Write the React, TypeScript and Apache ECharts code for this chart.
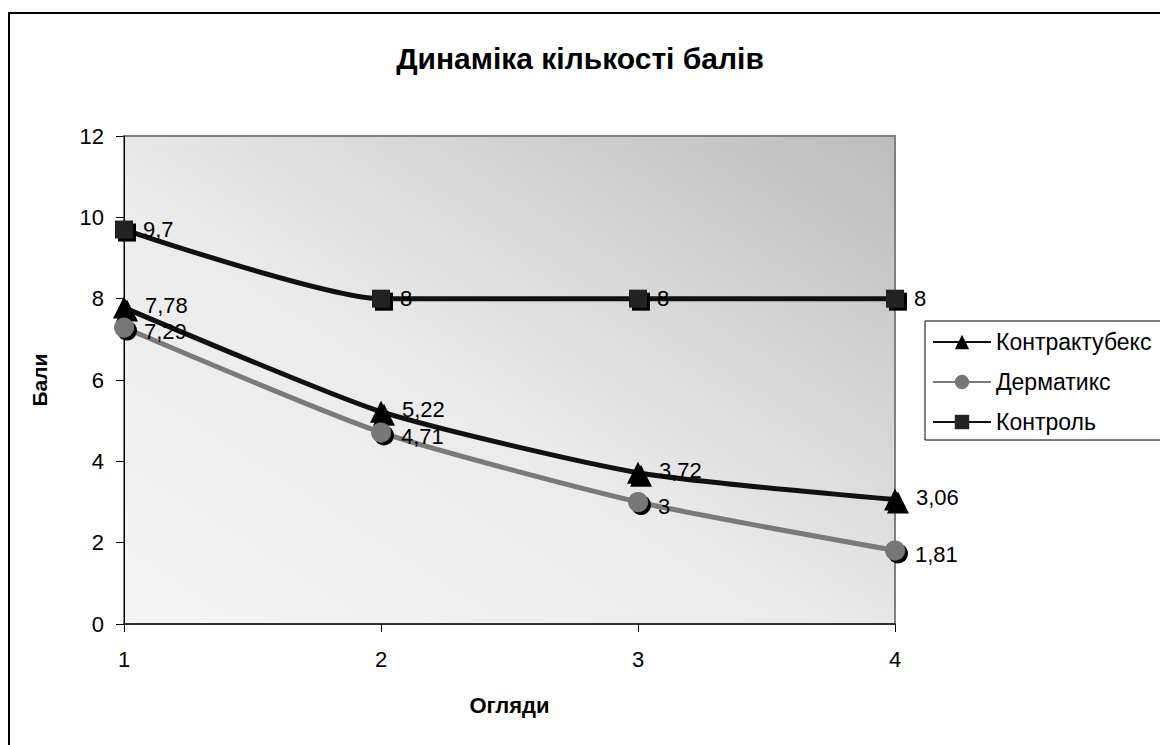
import React, { useEffect, useRef } from "react";
import * as echarts from "echarts";

const categories = ["1", "2", "3", "4"];
const kontraktubeks = [7.78, 5.22, 3.72, 3.06];
const dermatiks = [7.29, 4.71, 3, 1.81];
const kontrol = [9.7, 8, 8, 8];
const seriesNames = ["Контрактубекс", "Дерматикс", "Контроль"];
const yTicks = { min: 0, max: 12, interval: 2 };

const FONT = "Liberation Sans, Arial, sans-serif";

export default function App() {
  const ref = useRef<HTMLDivElement>(null);
  useEffect(() => {
    if (!ref.current) return;
    const chart = echarts.init(ref.current, null, { renderer: "svg" });
    const fmt = (p: any) => String(p.value).replace(".", ",");
    const label = {
      show: true,
      position: "right" as const,
      distance: 10,
      formatter: fmt,
      color: "#000",
      fontSize: 22,
      lineHeight: 19,
      fontFamily: FONT,
    };
    const shadow = { shadowColor: "#000", shadowOffsetX: 3, shadowOffsetY: 3, shadowBlur: 0 };
    chart.setOption({
      animation: false,
      textStyle: { fontFamily: FONT },
      title: {
        text: "Динаміка кількості балів",
        left: "center",
        top: 38,
        textStyle: { fontSize: 30, fontWeight: "bold", color: "#000", fontFamily: FONT },
      },
      graphic: [
        {
          type: "rect",
          z: -10,
          shape: { x: 9, y: 13, width: 1300, height: 900 },
          style: { fill: "none", stroke: "#000", lineWidth: 2 },
        },
      ],
      legend: {
        orient: "vertical",
        left: 925,
        top: 321,
        backgroundColor: "#fff",
        borderColor: "#000",
        borderWidth: 1,
        padding: [9, 30, 6, 7],
        itemWidth: 58,
        itemHeight: 18,
        itemGap: 16,
        textStyle: { fontSize: 23, lineHeight: 24, color: "#000", fontFamily: FONT },
        data: seriesNames,
      },
      grid: {
        show: true,
        left: 124,
        top: 136,
        right: 265,
        bottom: 121,
        borderColor: "#808080",
        borderWidth: 2,
        backgroundColor: new echarts.graphic.LinearGradient(0, 1, 1, 0, [
          { offset: 0, color: "#f4f4f4" },
          { offset: 0.45, color: "#ebebeb" },
          { offset: 1, color: "#bcbcbc" },
        ]),
      },
      xAxis: {
        type: "category",
        data: categories,
        boundaryGap: false,
        name: "Огляди",
        nameLocation: "middle",
        nameGap: 70,
        nameTextStyle: { fontSize: 22, fontWeight: "bold", color: "#000", fontFamily: FONT },
        axisLine: { lineStyle: { color: "#333", width: 2 } },
        axisTick: { show: true, length: 8, alignWithLabel: true, lineStyle: { color: "#000" } },
        axisLabel: { fontSize: 22, color: "#000", margin: 24, fontFamily: FONT },
        splitLine: { show: false },
      },
      yAxis: {
        type: "value",
        min: yTicks.min,
        max: yTicks.max,
        interval: yTicks.interval,
        name: "Бали",
        nameLocation: "middle",
        nameGap: 74,
        nameRotate: 90,
        nameTextStyle: { fontSize: 21, fontWeight: "bold", color: "#000", fontFamily: FONT },
        axisLine: { show: true, lineStyle: { color: "#000", width: 1 } },
        axisTick: { show: true, length: 8, lineStyle: { color: "#000" } },
        axisLabel: { fontSize: 22, color: "#000", margin: 20, fontFamily: FONT },
        splitLine: { show: false },
      },
      series: [
        {
          name: seriesNames[0],
          type: "line",
          smooth: 0.2,
          data: kontraktubeks,
          symbol: "triangle",
          symbolSize: 22,
          lineStyle: { color: "#111", width: 5 },
          itemStyle: { color: "#000", ...shadow },
          label: { ...label, offset: [0, -2] },
          z: 3,
        },
        {
          name: seriesNames[1],
          type: "line",
          smooth: 0.2,
          data: dermatiks,
          symbol: "circle",
          symbolSize: 20,
          lineStyle: { color: "#7a7a7a", width: 5 },
          itemStyle: { color: "#777", ...shadow },
          label: { ...label, offset: [0, 4] },
          z: 4,
        },
        {
          name: seriesNames[2],
          type: "line",
          smooth: 0.2,
          data: kontrol,
          symbol: "rect",
          symbolSize: 18,
          lineStyle: { color: "#111", width: 5 },
          itemStyle: { color: "#222", ...shadow },
          label,
          z: 5,
        },
      ],
    });
    return () => chart.dispose();
  }, []);
  return (
    <div
      ref={ref}
      style={{ position: "absolute", left: 0, top: 0, width: 1160, height: 745 }}
    />
  );
}
